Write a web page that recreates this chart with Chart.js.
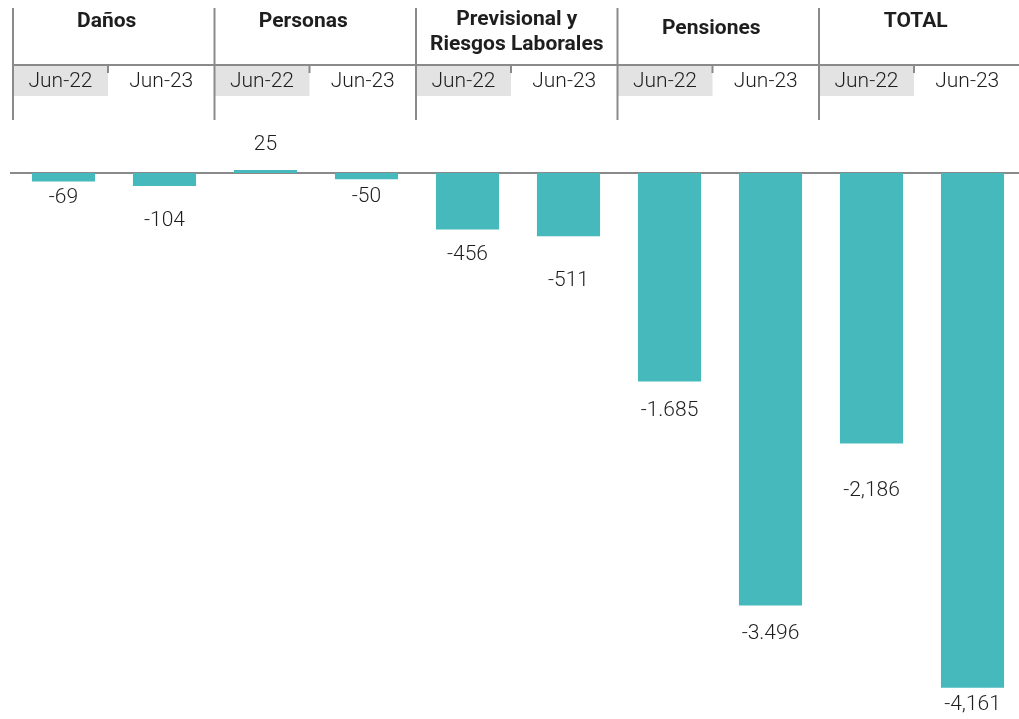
<!DOCTYPE html>
<html>
<head>
<meta charset="utf-8">
<script src="https://cdn.jsdelivr.net/npm/chart.js@4/dist/chart.umd.min.js"></script>
<style>
  html,body{margin:0;padding:0;background:#fff;overflow:hidden;}
  #wrap{width:1030px;height:719px;}
</style>
</head>
<body>
<div id="wrap"><canvas id="chart" width="1030" height="719"></canvas></div>
<script>
const groups = ["Daños", "Personas", ["Previsional y", "Riesgos Laborales"], "Pensiones", "TOTAL"];
const periods = ["Jun-22", "Jun-23"];
const jun22 = [-69, 25, -456, -1685, -2186];
const jun23 = [-104, -50, -511, -3496, -4161];
const labels22 = ["-69", "25", "-456", "-1.685", "-2,186"];
const labels23 = ["-104", "-50", "-511", "-3.496", "-4,161"];

const TEAL = "#46b9bc";
const LINE = "#8a8a8a";
const TXT = "#1e1e1e";

// header table drawn above the plot
const headerPlugin = {
  id: "header",
  beforeDraw(chart, args, opts){
    const ctx = chart.ctx;
    const xs = chart.scales.x;
    const left = chart.chartArea.left;
    const colW = opts.colW;
    ctx.save();
    ctx.fillStyle = "#e3e3e3";
    groups.forEach((g,i)=>{
      ctx.fillRect(left + i*colW, 66, opts.boxW, 30);
    });
    ctx.strokeStyle = LINE;
    ctx.lineWidth = 2;
    ctx.beginPath();
    ctx.moveTo(left, 65); ctx.lineTo(chart.width, 65);
    ctx.stroke();
    groups.forEach((g,i)=>{
      const x = left + i*colW;
      ctx.beginPath();
      ctx.moveTo(x, 8); ctx.lineTo(x, 120);
      ctx.stroke();
      ctx.beginPath();
      ctx.moveTo(x + opts.boxW, 65); ctx.lineTo(x + opts.boxW, 73);
      ctx.stroke();
    });
    ctx.fillStyle = TXT;
    ctx.textAlign = "center";
    ctx.textBaseline = "middle";
    ctx.font = "bold 21px Roboto";
    groups.forEach((g,i)=>{
      const cx = left + i*colW + colW/2 - opts.titleShift[i];
      const lines = Array.isArray(g) ? g : [g];
      lines.forEach((t,k)=>ctx.fillText(t, cx, opts.titleY[i] + k*25));
    });
    ctx.font = "300 21px Roboto";
    groups.forEach((g,i)=>{
      const x = left + i*colW;
      ctx.fillText(periods[0], x + opts.boxW/2, 82);
      ctx.fillText(periods[1], x + opts.boxW + (colW - opts.boxW)/2, 82);
    });
    const y0 = chart.scales.y.getPixelForValue(0);
    ctx.beginPath();
    ctx.moveTo(10, y0); ctx.lineTo(chart.width, y0);
    ctx.stroke();
    ctx.restore();
  }
};

const labelPlugin = {
  id: "vlabels",
  afterDatasetsDraw(chart, args, opts){
    const ctx = chart.ctx;
    const texts = [labels22, labels23];
    ctx.save();
    ctx.fillStyle = TXT;
    ctx.font = "300 21px Roboto";
    ctx.textAlign = "center";
    ctx.textBaseline = "middle";
    chart.data.datasets.forEach((ds,d)=>{
      chart.getDatasetMeta(d).data.forEach((bar,i)=>{
        const dy = opts.dy[d][i];
        ctx.fillText(texts[d][i], bar.x, ds.data[i] < 0 ? bar.y + dy : bar.y - dy);
      });
    });
    ctx.restore();
  }
};

new Chart(document.getElementById("chart"), {
  type: "bar",
  data: {
    labels: groups,
    datasets: [
      { label: periods[0], data: jun22, backgroundColor: TEAL, borderWidth: 0,
        barPercentage: 0.625, categoryPercentage: 1 },
      { label: periods[1], data: jun23, backgroundColor: TEAL, borderWidth: 0,
        barPercentage: 0.625, categoryPercentage: 1 }
    ]
  },
  options: {
    responsive: false,
    animation: false,
    devicePixelRatio: 1,
    layout: { padding: { left: 13, right: 7, top: 130, bottom: 0 } },
    scales: {
      x: { display: false },
      y: { display: false, min: -4414, max: 348 }
    },
    plugins: {
      legend: { display: false },
      tooltip: { enabled: false },
      header: { boxW: 95, colW: 201.5,
        titleShift: [7, 12, 0, 7, 4],
        titleY: [22, 22, 20, 29, 22] },
      vlabels: { dy: [[16, 25, 25, 29, 47], [35, 18, 45, 28, 17]] }
    }
  },
  plugins: [headerPlugin, labelPlugin]
});
</script>
</body>
</html>
